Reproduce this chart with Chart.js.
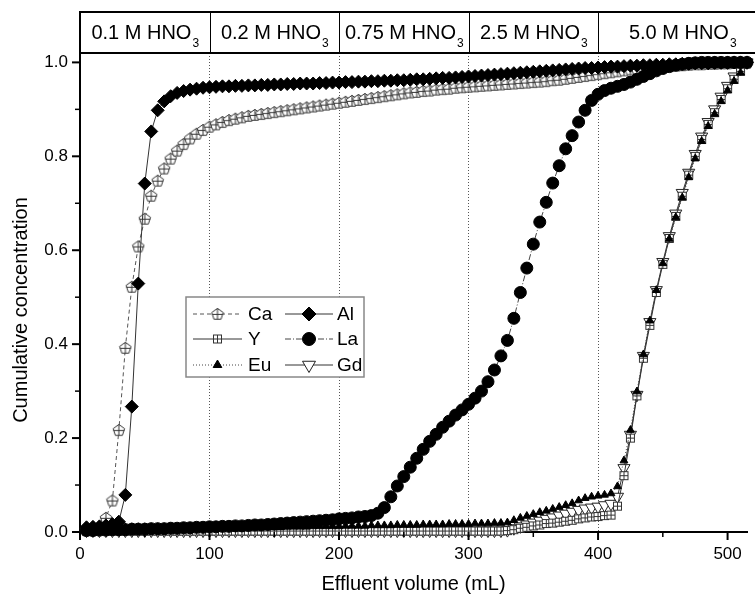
<!DOCTYPE html>
<html><head><meta charset="utf-8">
<script src="https://cdn.jsdelivr.net/npm/chart.js"></script>
<style>html,body{margin:0;padding:0;background:#fff;}#wrap{width:755px;height:597px;position:relative;}</style>
</head><body><div id="wrap"><canvas id="c" width="755" height="597"></canvas></div>
<script>
// ---------- data ----------
const volume = [5,10,15,20,25,30,35,40,45,50,55,60,65,70,75,80,85,90,95,100,
105,110,115,120,125,130,135,140,145,150,155,160,165,170,175,180,185,190,195,200,
205,210,215,220,225,230,235,240,245,250,255,260,265,270,275,280,285,290,295,300,
305,310,315,320,325,330,335,340,345,350,355,360,365,370,375,380,385,390,395,400,
405,410,415,420,425,430,435,440,445,450,455,460,465,470,475,480,485,490,495,500,
505,510,515];

const caValues = [0.004,0.005,0.010,0.030,0.067,0.217,
0.392,0.522,0.608,0.667,0.716,0.748,0.774,0.795,0.812,0.826,0.838,0.848,0.856,0.863,
0.868,0.873,0.877,0.880,0.883,0.886,0.888,0.890,0.892,0.894,0.896,0.898,0.900,0.902,0.904,0.906,0.908,0.910,0.912,0.914,
0.916,0.918,0.920,0.922,0.924,0.926,0.928,0.930,0.932,0.934,0.936,0.937,0.939,0.940,0.942,0.943,0.944,0.946,0.947,0.948,
0.949,0.950,0.951,0.952,0.953,0.954,0.955,0.956,0.957,0.958,0.959,0.960,0.962,0.963,0.965,0.967,0.969,0.971,0.973,0.975,
0.977,0.979,0.981,0.983,0.985,0.986,0.988,0.989,0.990,0.991,0.992,0.993,0.994,0.995,0.996,0.996,0.997,0.997,0.998,0.998,
0.999,0.999,0.999];

const yValues = [0.002,0.002,0.002,0.002,0.002,0.002,0.002,0.002,0.002,0.002,
0.002,0.002,0.002,0.002,0.002,0.002,0.002,0.002,0.002,0.002,
0.002,0.002,0.002,0.002,0.002,0.002,0.002,0.002,0.002,0.002,
0.002,0.002,0.002,0.002,0.002,0.002,0.002,0.002,0.002,0.002,
0.002,0.002,0.002,0.002,0.002,0.002,0.002,0.002,0.002,0.002,
0.002,0.002,0.002,0.002,0.002,0.002,0.002,0.002,0.002,0.002,
0.002,0.002,0.002,0.002,0.002,
0.003,0.005,0.008,0.010,0.013,0.015,0.018,0.019,0.021,0.023,0.025,0.028,0.030,0.032,0.033,0.035,0.036,
0.055,0.120,0.200,0.290,0.370,0.440,0.510,0.570,0.625,0.672,0.715,0.760,0.800,0.836,0.868,0.893,0.921,0.944,0.964,0.981,0.999];

const euValues = [0.010,0.010,0.010,0.010,0.010,0.010,0.010,0.010,0.010,0.010,
0.010,0.010,0.010,0.010,0.010,0.010,0.010,0.010,0.010,0.010,
0.010,0.010,0.010,0.010,0.010,0.010,0.010,0.010,0.010,0.010,
0.010,0.011,0.011,0.011,0.011,0.012,0.012,0.012,0.012,0.012,
0.013,0.013,0.013,0.013,0.014,0.014,0.014,0.014,0.015,0.015,
0.015,0.015,0.016,0.016,0.016,0.016,0.017,0.017,0.017,0.017,
0.018,0.018,0.018,0.019,0.019,
0.020,0.025,0.030,0.034,0.038,0.042,0.045,0.049,0.053,0.057,0.061,0.067,0.072,0.075,0.077,0.079,0.082,
0.097,0.152,0.217,0.299,0.378,0.450,0.515,0.572,0.624,0.670,0.712,0.755,0.795,0.832,0.864,0.890,0.917,0.940,0.960,0.978,0.995];

const alValues = [0.010,0.011,0.012,0.014,0.017,0.022,
0.079,0.267,0.529,0.742,0.853,0.898,0.917,0.928,0.935,0.939,0.942,0.944,0.946,0.947,
0.948,0.949,0.949,0.950,0.950,0.951,0.951,0.952,0.952,0.953,0.953,0.954,0.954,0.955,0.955,0.955,0.956,0.956,0.957,0.957,
0.958,0.958,0.959,0.959,0.960,0.960,0.961,0.961,0.962,0.962,0.963,0.964,0.964,0.965,0.966,0.967,0.967,0.968,0.969,0.970,
0.971,0.972,0.973,0.974,0.975,0.976,0.977,0.978,0.979,0.980,0.981,0.982,0.983,0.984,0.985,0.986,0.987,0.988,0.988,0.989,
0.990,0.991,0.991,0.992,0.993,0.993,0.994,0.994,0.995,0.995,0.996,0.996,0.997,0.997,0.998,0.998,0.998,0.999,0.999,0.999,
1.000,1.000,1.000];

const laValues = [0.003,0.003,0.004,0.004,0.005,0.005,
0.005,0.006,0.006,0.006,0.007,0.007,0.007,0.008,0.008,0.009,0.009,0.010,0.010,0.011,
0.011,0.012,0.012,0.013,0.013,0.014,0.015,0.015,0.016,0.017,0.018,0.019,0.020,0.021,0.022,0.023,0.024,0.025,0.026,0.028,
0.029,0.030,0.032,0.033,0.035,0.040,0.052,0.075,0.098,0.118,0.138,0.157,0.176,0.193,0.208,0.223,0.236,0.249,0.260,0.272,
0.285,0.300,0.320,0.345,0.375,0.408,0.455,0.510,0.562,0.613,0.660,0.702,0.743,0.780,0.816,0.844,0.873,0.898,0.919,0.932,
0.940,0.945,0.949,0.953,0.958,0.964,0.970,0.976,0.982,0.987,0.991,0.994,0.996,0.998,0.999,1.000,1.000,1.000,1.000,1.000,
1.000,1.000,1.000];

const gdValues = [0.003,0.003,0.003,0.003,0.003,0.003,0.003,0.003,0.003,0.003,
0.003,0.003,0.003,0.003,0.003,0.003,0.003,0.003,0.003,0.003,
0.003,0.003,0.003,0.003,0.003,0.003,0.003,0.003,0.003,0.003,
0.003,0.003,0.003,0.003,0.003,0.003,0.003,0.003,0.003,0.003,
0.003,0.003,0.003,0.003,0.003,0.003,0.003,0.003,0.003,0.003,
0.003,0.003,0.003,0.003,0.003,0.003,0.003,0.003,0.003,0.003,
0.003,0.003,0.003,0.003,0.003,
0.004,0.008,0.012,0.016,0.020,0.024,0.028,0.031,0.035,0.039,0.043,0.047,0.050,0.052,0.054,0.057,0.060,
0.075,0.136,0.207,0.292,0.375,0.447,0.515,0.575,0.630,0.678,0.722,0.765,0.805,0.842,0.873,0.900,0.927,0.950,0.970,0.986,1.000];

const acidSteps = [0, 100, 200, 300, 400, 530];
const acidLabels = ['0.1 M HNO', '0.2 M HNO', '0.75 M HNO', '2.5 M HNO', '5.0 M HNO'];
const acidSubscript = '3';
const xTitle = 'Effluent volume (mL)';
const yTitle = 'Cumulative concentration';
const legendRows = [['Ca', 'Al'], ['Y', 'La'], ['Eu', 'Gd']];

// ---------- marker images ----------
function pentagonMarker() {
  const c = document.createElement('canvas'); c.width = 14; c.height = 14;
  const g = c.getContext('2d'); const cx = 7, cy = 7.4, r = 6;
  g.beginPath();
  for (let k = 0; k < 5; k++) {
    const a = -Math.PI / 2 + k * 2 * Math.PI / 5;
    const px = cx + r * Math.cos(a), py = cy + r * Math.sin(a);
    if (k) g.lineTo(px, py); else g.moveTo(px, py);
  }
  g.closePath(); g.fillStyle = '#fff'; g.fill();
  g.strokeStyle = '#333'; g.lineWidth = 1; g.stroke();
  g.beginPath(); g.moveTo(cx, cy - r); g.lineTo(cx, cy + r * 0.8);
  g.moveTo(cx - r * 0.9, cy); g.lineTo(cx + r * 0.9, cy); g.stroke();
  return c;
}
function squareMarker() {
  const c = document.createElement('canvas'); c.width = 11; c.height = 11;
  const g = c.getContext('2d');
  g.fillStyle = '#fff'; g.fillRect(1, 1, 9, 9);
  g.strokeStyle = '#333'; g.lineWidth = 1; g.strokeRect(1.5, 1.5, 8, 8);
  g.beginPath(); g.moveTo(5.5, 1.5); g.lineTo(5.5, 9.5); g.moveTo(1.5, 5.5); g.lineTo(9.5, 5.5); g.stroke();
  return c;
}
const pentImg = pentagonMarker();
const sqImg = squareMarker();

const toPts = vals => volume.map((v, i) => ({x: v, y: vals[i]}));

const datasets = [
  {label: 'Ca', data: toPts(caValues), borderColor: '#555', borderWidth: 1, borderDash: [4, 3],
   pointStyle: pentImg, pointRadius: 6, order: 3},
  {label: 'Y', data: toPts(yValues), borderColor: '#333', borderWidth: 1, borderDash: [],
   pointStyle: sqImg, pointRadius: 5, order: 5},
  {label: 'Eu', data: toPts(euValues), borderColor: '#444', borderWidth: 1, borderDash: [1, 2],
   pointStyle: 'triangle', pointRadius: 4.5, pointBackgroundColor: '#000', pointBorderColor: '#000', pointBorderWidth: 1, order: 4},
  {label: 'Al', data: toPts(alValues), borderColor: '#333', borderWidth: 1, borderDash: [],
   pointStyle: 'rectRot', pointRadius: 6.5, pointBackgroundColor: '#000', pointBorderColor: '#000', pointBorderWidth: 1, order: 2},
  {label: 'La', data: toPts(laValues), borderColor: '#444', borderWidth: 1, borderDash: [6, 2, 1, 2],
   pointStyle: 'circle', pointRadius: 6, pointBackgroundColor: '#000', pointBorderColor: '#000', pointBorderWidth: 1, order: 1},
  {label: 'Gd', data: toPts(gdValues), borderColor: '#333', borderWidth: 1, borderDash: [],
   pointStyle: 'triangle', pointRotation: 180, pointRadius: 7, pointBackgroundColor: '#fff', pointBorderColor: '#222', pointBorderWidth: 1, order: 6}
];
datasets.forEach(d => { d.showLine = true; d.tension = 0; d.clip = false; d.fill = false; d.pointHoverRadius = d.pointRadius; });

const FONT = '"Liberation Sans", Arial, sans-serif';

// ---------- plugins ----------
const decorPlugin = {
  id: 'decor',
  afterDraw(chart) {
    const {ctx, chartArea: ca, scales: {x, y}} = chart;
    ctx.save();
    // ticks
    ctx.strokeStyle = '#000';
    x.ticks.forEach(t => {
      const px = x.getPixelForValue(t.value);
      const major = t.value % 100 === 0;
      ctx.lineWidth = major ? 2 : 1.5;
      ctx.beginPath(); ctx.moveTo(px, ca.bottom); ctx.lineTo(px, ca.bottom + (major ? 8 : 5)); ctx.stroke();
    });
    y.ticks.forEach(t => {
      const py = y.getPixelForValue(t.value);
      const major = Math.round(t.value * 10) % 2 === 0;
      ctx.lineWidth = major ? 2 : 1.5;
      ctx.beginPath(); ctx.moveTo(ca.left, py); ctx.lineTo(ca.left - (major ? 8 : 5), py); ctx.stroke();
    });
    // axis titles
    ctx.fillStyle = '#000';
    ctx.font = '20px ' + FONT;
    ctx.textAlign = 'center'; ctx.textBaseline = 'middle';
    ctx.fillText(xTitle, (ca.left + ca.right) / 2, 584);
    ctx.save(); ctx.translate(21, 310); ctx.rotate(-Math.PI / 2); ctx.fillText(yTitle, 0, 0); ctx.restore();

    // header band with eluent concentrations
    const top = 12, bot = ca.top;
    const left = x.getPixelForValue(acidSteps[0]);
    const right = chart.width + 4;
    ctx.fillStyle = '#fff';
    ctx.fillRect(left, top, right - left, bot - top);
    ctx.strokeStyle = '#000'; ctx.lineWidth = 2;
    ctx.strokeRect(left, top, right - left, bot - top);
    ctx.lineWidth = 1;
    for (let i = 1; i < acidSteps.length - 1; i++) {
      const px = Math.round(x.getPixelForValue(acidSteps[i])) + 0.5;
      ctx.beginPath(); ctx.moveTo(px, top); ctx.lineTo(px, bot); ctx.stroke();
    }
    ctx.fillStyle = '#000';
    for (let i = 0; i < acidLabels.length; i++) {
      const a = x.getPixelForValue(acidSteps[i]);
      const b = x.getPixelForValue(acidSteps[i + 1]);
      ctx.font = '20px ' + FONT;
      const w1 = ctx.measureText(acidLabels[i]).width;
      ctx.font = '12px ' + FONT;
      const w2 = ctx.measureText(acidSubscript).width;
      const sx = (a + b) / 2 - (w1 + w2) / 2;
      ctx.textAlign = 'left'; ctx.textBaseline = 'alphabetic';
      ctx.font = '20px ' + FONT;
      ctx.fillText(acidLabels[i], sx, 39);
      ctx.font = '12px ' + FONT;
      ctx.fillText(acidSubscript, sx + w1 + 1, 47);
    }

    // legend
    const lx = 186, ly = 297, lw = 178, lh = 80;
    ctx.fillStyle = '#fff'; ctx.fillRect(lx, ly, lw, lh);
    ctx.strokeStyle = '#888'; ctx.lineWidth = 1.5; ctx.strokeRect(lx, ly, lw, lh);
    const colLine = [[193, 242], [285, 333]];
    const colText = [248, 337];
    const rowY = [314, 339, 365];
    legendRows.forEach((row, r) => {
      row.forEach((name, c) => {
        const ds = chart.data.datasets.find(d => d.label === name);
        const yy = rowY[r];
        ctx.save();
        ctx.strokeStyle = ds.borderColor; ctx.lineWidth = 1; ctx.setLineDash(ds.borderDash || []);
        ctx.beginPath(); ctx.moveTo(colLine[c][0], yy); ctx.lineTo(colLine[c][1], yy); ctx.stroke();
        ctx.setLineDash([]);
        ctx.fillStyle = ds.pointBackgroundColor || '#fff';
        ctx.strokeStyle = ds.pointBorderColor || '#000';
        ctx.lineWidth = ds.pointBorderWidth || 1;
        Chart.helpers.drawPoint(ctx, {pointStyle: ds.pointStyle, rotation: ds.pointRotation || 0,
          radius: ds.pointRadius + 0.5, borderWidth: ds.pointBorderWidth || 1}, (colLine[c][0] + colLine[c][1]) / 2, yy);
        ctx.restore();
        ctx.fillStyle = '#000'; ctx.font = '19px ' + FONT;
        ctx.textAlign = 'left'; ctx.textBaseline = 'middle';
        ctx.fillText(name, colText[c], yy + 1);
      });
    });
    ctx.restore();
  }
};

const gridValues = [100, 200, 300, 400];

new Chart(document.getElementById('c'), {
  type: 'scatter',
  data: {datasets},
  options: {
    responsive: false, animation: false, devicePixelRatio: 1,
    events: [],
    layout: {padding: {top: 53, left: 0, right: 0, bottom: 0}},
    plugins: {legend: {display: false}, tooltip: {enabled: false}, title: {display: false}},
    scales: {
      x: {
        type: 'linear', min: 0, max: 515,
        afterFit: s => { s.height = 65; },
        ticks: {stepSize: 50, includeBounds: false, autoSkip: false, maxRotation: 0, padding: 12,
          color: '#000', font: {family: FONT, size: 17},
          callback: v => (v % 100 === 0 ? String(v) : '')},
        grid: {drawTicks: false, drawOnChartArea: true, lineWidth: 1,
          color: c => (c.tick && gridValues.includes(c.tick.value) ? '#555' : 'rgba(0,0,0,0)')},
        border: {display: true, color: '#000', width: 2, dash: [1, 2]}
      },
      y: {
        type: 'linear', min: 0, max: 1.02,
        afterFit: s => { s.width = 80; },
        ticks: {stepSize: 0.1, includeBounds: false, autoSkip: false, padding: 12,
          color: '#000', font: {family: FONT, size: 17},
          callback: v => (Math.round(v * 10) % 2 === 0 ? v.toFixed(1) : '')},
        grid: {drawTicks: false, drawOnChartArea: false},
        border: {display: true, color: '#000', width: 2}
      }
    }
  },
  plugins: [decorPlugin]
});
</script>
</body></html>
